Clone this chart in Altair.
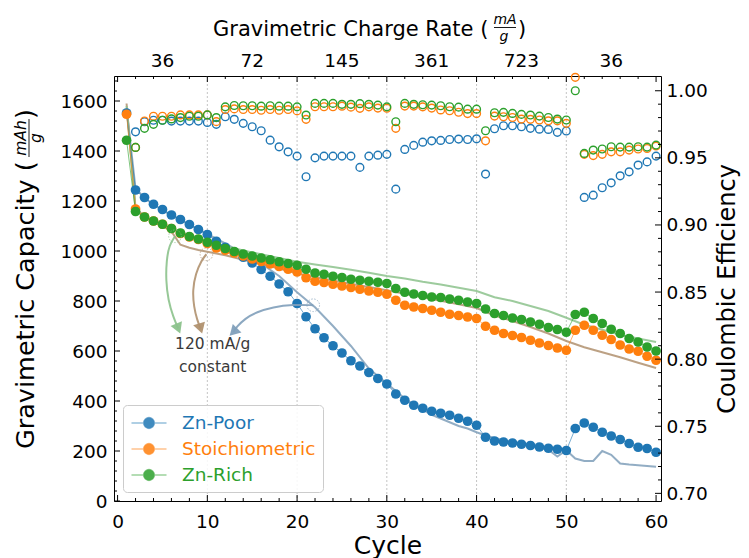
import altair as alt
import pandas as pd

# ---------------- data ----------------
names = ["Zn-Poor", "Stoichiometric", "Zn-Rich"]
colors = ["#1f77b4", "#ff7f0e", "#2ca02c"]
ref_colors = ["#7f9fba", "#b0916f", "#8cc28c"]

cycles = list(range(1, 61))

cap_poor = [1552, 1244, 1214, 1187, 1166, 1144, 1126, 1106, 1086, 1066,
            1039, 1015, 995, 975, 952, 926, 899, 868, 837, 790,
            737, 689, 653, 621, 592, 561, 540, 514, 490, 468,
            428, 403, 383, 371, 359, 351, 343, 331, 319, 303,
            255, 240, 236, 232, 227, 222, 216, 211, 207, 202,
            290, 312, 295, 275, 260, 246, 230, 215, 210, 195]
cap_stoich = [1547, 1168, 1136, 1120, 1107, 1090, 1070, 1056, 1046, 1030,
              1012, 1003, 992, 980, 968, 958, 948, 938, 927, 916,
              893, 879, 874, 867, 860, 854, 847, 840, 835, 827,
              803, 783, 776, 770, 763, 755, 747, 742, 736, 730,
              699, 683, 670, 662, 654, 643, 632, 622, 612, 603,
              683, 703, 683, 663, 646, 624, 608, 599, 579, 563]
cap_rich = [1443, 1158, 1136, 1120, 1107, 1090, 1072, 1058, 1048, 1035,
            1023, 1010, 998, 988, 980, 972, 965, 957, 950, 943,
            927, 912, 907, 899, 894, 887, 883, 879, 875, 870,
            850, 835, 828, 822, 816, 814, 808, 803, 796, 790,
            768, 750, 742, 732, 726, 716, 707, 694, 686, 675,
            746, 755, 730, 710, 687, 670, 650, 636, 616, 600]

ce_poor = [None, 0.9694, 0.9769, 0.978, 0.978, 0.9774, 0.9774, 0.9774, 0.9774, 0.9764,
           0.975, 0.9806, 0.9787, 0.9757, 0.9732, 0.9702, 0.9632, 0.9582, 0.9545, 0.9513,
           0.9359, 0.950, 0.9513, 0.9513, 0.9513, 0.9513, 0.9429, 0.9513, 0.952, 0.9526,
           0.9267, 0.9563, 0.9593, 0.9617, 0.9627, 0.963, 0.9637, 0.964, 0.9637, 0.9642,
           0.9379, 0.9717, 0.9739, 0.9739, 0.9732, 0.972, 0.9714, 0.9712, 0.969, 0.970,
           None, 0.9205, 0.9222, 0.9277, 0.9314, 0.9366, 0.9396, 0.9446, 0.947, 0.9513]
ce_stoich = [None, 0.9578, 0.9775, 0.981, 0.981, 0.981, 0.982, 0.982, 0.982, 0.982,
             0.977, 0.986, 0.9865, 0.986, 0.986, 0.9855, 0.986, 0.9855, 0.986, 0.985,
             0.9787, 0.9881, 0.9881, 0.9881, 0.9885, 0.9878, 0.9869, 0.988, 0.9871, 0.987,
             0.972, 0.9886, 0.9886, 0.988, 0.9871, 0.9857, 0.9851, 0.984, 0.983, 0.983,
             0.9627, 0.9811, 0.9806, 0.9801, 0.9789, 0.9787, 0.9782, 0.9776, 0.9776, 0.9757,
             1.010, 0.9526, 0.9517, 0.9526, 0.9545, 0.9545, 0.9558, 0.9566, 0.957, 0.9588]
ce_rich = [None, 0.9578, 0.972, 0.975, 0.978, 0.979, 0.980, 0.981, 0.981, 0.982,
           0.980, 0.988, 0.989, 0.9888, 0.9888, 0.9885, 0.9888, 0.9885, 0.9885, 0.988,
           0.9819, 0.9906, 0.9906, 0.9906, 0.9899, 0.9899, 0.9904, 0.9899, 0.9893, 0.988,
           0.9769, 0.9906, 0.9899, 0.9896, 0.9893, 0.9888, 0.9881, 0.9878, 0.9863, 0.9863,
           0.9702, 0.9836, 0.9839, 0.9831, 0.9824, 0.9819, 0.9811, 0.9801, 0.9789, 0.9782,
           1.000, 0.9533, 0.9558, 0.9566, 0.9583, 0.958, 0.958, 0.9583, 0.958, 0.9595]

# constant 120 mA/g reference runs
ref_poor_cycles = [1, 2, 3, 4, 5, 6, 7, 8, 9, 10, 12, 14, 16, 18, 20, 22, 24, 26, 28, 30,
                   31, 32, 33, 34, 35, 36, 37, 38, 39, 40, 41, 42, 43, 44, 45, 46, 47, 48,
                   49, 50, 51, 52, 53, 54, 55, 56, 57, 58, 60]
ref_poor = [1570, 1250, 1212, 1185, 1163, 1143, 1125, 1105, 1087, 1068, 1030, 990, 950, 900,
            835, 775, 700, 620, 530, 470, 440, 410, 385, 365, 345, 330, 315, 300, 290, 275,
            262, 252, 243, 235, 228, 220, 212, 205, 178, 203, 170, 160, 160, 200, 185, 150,
            146, 143, 137]
ref_other_cycles = [1, 2, 3, 4, 5, 6, 7, 8, 9, 10, 12, 14, 16, 18, 20, 22, 24, 26, 28, 30,
                    32, 34, 36, 38, 40, 42, 44, 46, 48, 50, 52, 54, 56, 58, 60]
ref_stoich = [1590, 1172, 1138, 1117, 1100, 1078, 1025, 1013, 1004, 997, 983, 965, 948, 930,
              911, 895, 882, 869, 856, 843, 829, 815, 801, 787, 772, 742, 720, 696, 670, 640,
              615, 595, 575, 553, 532]
ref_rich = [1580, 1165, 1135, 1118, 1104, 1090, 1076, 1064, 1052, 1040, 1020, 1002, 987, 972,
            957, 946, 936, 925, 913, 900, 890, 877, 866, 853, 840, 815, 800, 780, 760, 733,
            705, 685, 665, 650, 636]

# annotation arrows (cycle, capacity)
arrow_rich_x = [6.4, 5.75, 5.45, 5.38, 5.64, 6.2, 6.76]
arrow_rich_y = [1059, 1023, 963, 883, 803, 736, 690]
arrow_stoich_x = [9.9, 9.35, 8.7, 8.35, 8.5, 8.87, 9.25]
arrow_stoich_y = [987, 963, 910, 843, 776, 723, 690]
arrow_poor_x = [21.8, 19.55, 17.3, 15.5, 14.2, 13.25, 12.9]
arrow_poor_y = [783, 786, 776, 756, 730, 696, 676]
head_angles = [338, 343, 45]
note_lines = ["120 mA/g", "constant"]
note_x = [10.6, 10.6]
note_y = [628, 536]

top_rate_cycles = [5, 15, 25, 35, 45, 55]
top_rate_labels = ["36", "72", "145", "361", "723", "36"]

# ---------------- tables ----------------
cap_rows = []
for nm, vals in zip(names, [cap_poor, cap_stoich, cap_rich]):
    for c, v in zip(cycles, vals):
        cap_rows.append({"cycle": c, "cap": v, "series": nm})
cap_df = pd.DataFrame(cap_rows)
cap_df["col"] = cap_df["series"].map(dict(zip(names, colors)))

ce_rows = []
for nm, col, vals in zip(names, colors, [ce_poor, ce_stoich, ce_rich]):
    for c, v in zip(cycles, vals):
        if v is not None:
            ce_rows.append({"cycle": c, "ce": v, "series": nm, "col": col})
ce_df = pd.DataFrame(ce_rows)

ref_rows = []
for nm, col, cx, vals in zip(names, ref_colors,
                             [ref_poor_cycles, ref_other_cycles, ref_other_cycles],
                             [ref_poor, ref_stoich, ref_rich]):
    for c, v in zip(cx, vals):
        ref_rows.append({"cycle": c, "cap": v, "series": nm, "col": col})
ref_df = pd.DataFrame(ref_rows)

arr_rows, head_rows, circ_rows = [], [], []
for nm, col, xs_, ys_, ang in zip(names, ref_colors,
                                  [arrow_poor_x, arrow_stoich_x, arrow_rich_x],
                                  [arrow_poor_y, arrow_stoich_y, arrow_rich_y],
                                  [head_angles[2], head_angles[1], head_angles[0]]):
    for i, (a, b) in enumerate(zip(xs_, ys_)):
        arr_rows.append({"i": i, "cycle": a, "cap": b, "arrow": nm, "col": col})
    head_rows.append({"cycle": xs_[-1], "cap": ys_[-1], "angle": ang, "col": col})
    circ_rows.append({"cycle": xs_[0], "cap": ys_[0], "col": col})
arr_df = pd.DataFrame(arr_rows)
head_df = pd.DataFrame(head_rows)
circ_df = pd.DataFrame(circ_rows)
note_df = pd.DataFrame({"cycle": note_x, "cap": note_y, "text": note_lines})

W, H = 547, 425
FONT = "DejaVu Sans"

xs = alt.Scale(domain=[-0.4, 60.55], nice=False, zero=False)
ys = alt.Scale(domain=[0, 1700], nice=False, zero=False)
yce = alt.Scale(domain=[0.6943, 1.011], nice=False, zero=False)

x_axis = alt.Axis(values=[0, 10, 20, 30, 40, 50, 60], ticks=False, domain=False, grid=False,
                  labelFontSize=18.5, labelPadding=11, labelColor="black",
                  titleFontSize=25, titleFontWeight="normal", titleColor="black",
                  titleBaseline="alphabetic", titleY=52, labelFlush=False)
yl_axis = alt.Axis(values=list(range(0, 1601, 200)), format="d", ticks=False, domain=False,
                   grid=False, labelFontSize=18.5, labelPadding=7, labelColor="black", title=None)
yr_axis = alt.Axis(orient="right", values=[0.70, 0.75, 0.80, 0.85, 0.90, 0.95, 1.00],
                   format=".2f", ticks=False, domain=False, grid=False,
                   labelFontSize=18.5, labelPadding=5, labelColor="black",
                   title="Coulombic Efficiency", titleFontSize=24, titleFontWeight="normal",
                   titleColor="black", titleAngle=270, titleAlign="center",
                   titleBaseline="middle", titleX=66, titleY=H / 2)


def X(f):
    return alt.X(f, type="quantitative", scale=xs, axis=x_axis, title="Cycle")


def YL(f):
    return alt.Y(f, type="quantitative", scale=ys, axis=yl_axis)


col_expr = ("datum.label == 'Zn-Poor' ? '{0}' : datum.label == 'Stoichiometric' ? '{1}' : '{2}'"
            .format(*colors))
stroke_expr = ("datum.label == 'Zn-Poor' ? 'rgba(31,119,180,0.55)' : "
               "datum.label == 'Stoichiometric' ? 'rgba(255,127,14,0.55)' : 'rgba(44,160,44,0.55)'")

# ---------------- left (capacity) layers ----------------
grid = alt.Chart(pd.DataFrame({"cycle": [10, 20, 30, 40, 50]})).mark_rule(
    color="#b5b5b5", strokeDash=[2, 2], strokeWidth=0.8).encode(x=X("cycle"))

ref_lines = alt.Chart(ref_df).mark_line(strokeWidth=2, opacity=0.85).encode(
    x=X("cycle"), y=YL("cap"), detail="series:N", color=alt.Color("col:N", scale=None))

cap_lines = alt.Chart(cap_df).mark_line(strokeWidth=1, opacity=0.6).encode(
    x=X("cycle"), y=YL("cap"), detail="series:N", color=alt.Color("col:N", scale=None))

legend = alt.Legend(
    title=None, orient="bottom-left", offset=9,
    symbolType="M-1.75,0H1.75M0.55,0A0.55,0.55,0,1,1,-0.55,0A0.55,0.55,0,1,1,0.55,0Z",
    symbolSize=400, symbolStrokeWidth=1.3, symbolOpacity=1, symbolOffset=8,
    symbolStrokeColor={"expr": stroke_expr},
    labelColor={"expr": col_expr},
    labelFontSize=18.5, labelFont=FONT, labelOffset=22, rowPadding=5, padding=7,
    fillColor="rgba(255,255,255,0.85)", strokeColor="#cccccc", cornerRadius=4,
)
cap_points = alt.Chart(cap_df).mark_circle(size=95, opacity=1).encode(
    x=X("cycle"), y=YL("cap"),
    color=alt.Color("series:N", scale=alt.Scale(domain=names, range=colors),
                    sort=names, legend=legend))

arrows = alt.Chart(arr_df).mark_line(strokeWidth=2, interpolate="basis", opacity=0.9).encode(
    x=X("cycle"), y=YL("cap"), detail="arrow:N", order="i:Q",
    color=alt.Color("col:N", scale=None))
heads = alt.Chart(head_df).mark_point(shape="triangle-down", filled=True, size=150,
                                      opacity=0.95).encode(
    x=X("cycle"), y=YL("cap"), angle=alt.Angle("angle:Q", scale=None),
    color=alt.Color("col:N", scale=None))
circles = alt.Chart(circ_df).mark_point(filled=False, size=160, strokeWidth=1,
                                        strokeDash=[1.5, 1.5]).encode(
    x=X("cycle"), y=YL("cap"), color=alt.Color("col:N", scale=None))
notes = alt.Chart(note_df).mark_text(font=FONT, fontSize=15.5, color="#3a3a3a").encode(
    x=X("cycle"), y=YL("cap"), text="text:N")

# inward ticks
bt_major = alt.Chart(pd.DataFrame({"cycle": list(range(0, 61, 10))}))
bt_minor = alt.Chart(pd.DataFrame({"cycle": [c for c in range(0, 61, 2) if c % 10]}))
tick_layers = [
    bt_major.mark_rule(color="black").encode(x=X("cycle"), y=alt.value(H), y2=alt.value(H - 6)),
    bt_minor.mark_rule(color="black").encode(x=X("cycle"), y=alt.value(H), y2=alt.value(H - 3)),
    bt_major.mark_rule(color="black").encode(x=X("cycle"), y=alt.value(0), y2=alt.value(6)),
    bt_minor.mark_rule(color="black").encode(x=X("cycle"), y=alt.value(0), y2=alt.value(3)),
]
yl_major = alt.Chart(pd.DataFrame({"v": list(range(0, 1601, 200))}))
yl_minor = alt.Chart(pd.DataFrame({"v": [v for v in range(0, 1700, 40) if v % 200]}))
tick_layers += [
    yl_major.mark_rule(color="black").encode(y=YL("v"), x=alt.value(0), x2=alt.value(6)),
    yl_minor.mark_rule(color="black").encode(y=YL("v"), x=alt.value(0), x2=alt.value(3)),
]

top_labels = alt.Chart(pd.DataFrame({"cycle": top_rate_cycles, "lab": top_rate_labels})).mark_text(
    font=FONT, fontSize=18.5, baseline="alphabetic", color="black").encode(
    x=X("cycle"), y=alt.value(-9), text="lab:N")


# titles with fractions
def txt(s, x, y, size, angle=0, align="left", baseline="alphabetic", italic=False):
    m = alt.Chart(pd.DataFrame({"t": [s]})).mark_text(
        font=FONT, fontSize=size, angle=angle, align=align, baseline=baseline,
        fontStyle="italic" if italic else "normal", color="black")
    return m.encode(x=alt.value(x), y=alt.value(y), text="t:N")


def bar(x1, x2, y1, y2):
    return alt.Chart(pd.DataFrame({"t": [0]})).mark_rule(color="black", strokeWidth=0.9).encode(
        x=alt.value(x1), x2=alt.value(x2), y=alt.value(y1), y2=alt.value(y2))


top_title = [
    txt("Gravimetric Charge Rate (", 99, -40, 21),
    txt("mA", 391, -52, 14, align="center", italic=True),
    txt("g", 390, -35, 14, align="center", italic=True),
    txt(")", 404, -40, 21),
    bar(380, 402, -48.5, -48.5),
]
left_title = [
    txt("Gravimetric Capacity (", -80, 373, 25.5, angle=270),
    txt("mAh", -88, 62, 15.5, angle=270, align="center", italic=True),
    txt("g", -73, 62, 15.5, angle=270, align="center", italic=True),
    txt(")", -80, 43, 25.5, angle=270),
    bar(-85, -85, 43, 81),
]

left = alt.layer(grid, ref_lines, cap_lines, cap_points, arrows, heads, circles, notes,
                 *tick_layers, top_labels, *top_title, *left_title)


# ---------------- right (coulombic efficiency) layers ----------------
def YR(f):
    return alt.Y(f, type="quantitative", scale=yce, axis=yr_axis)


ce_points = alt.Chart(ce_df).mark_point(filled=False, size=60, strokeWidth=1.4, opacity=1).encode(
    x=X("cycle"), y=YR("ce"), color=alt.Color("col:N", scale=None))
yr_major = alt.Chart(pd.DataFrame({"v": [0.70, 0.75, 0.80, 0.85, 0.90, 0.95, 1.00]}))
yr_minor = alt.Chart(pd.DataFrame({"v": [0.70 + 0.01 * k for k in range(31) if k % 5]}))
right = alt.layer(
    ce_points,
    yr_major.mark_rule(color="black").encode(y=YR("v"), x=alt.value(W), x2=alt.value(W - 6)),
    yr_minor.mark_rule(color="black").encode(y=YR("v"), x=alt.value(W), x2=alt.value(W - 3)),
)

chart = alt.layer(left, right).resolve_scale(y="independent").properties(
    width=W, height=H,
    autosize=alt.AutoSizeParams(type="none"),
    padding={"left": 106, "top": 68, "right": 80, "bottom": 57},
).configure(font=FONT).configure_view(stroke="black", strokeWidth=1)

chart.save("out.html", embed_options={"renderer": "svg", "actions": False})
